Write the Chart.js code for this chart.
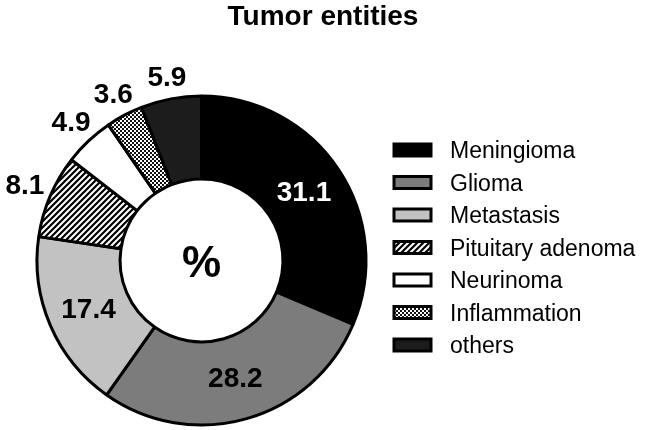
<!DOCTYPE html>
<html>
<head>
<meta charset="utf-8">
<script src="https://cdn.jsdelivr.net/npm/chart.js@4.4.0/dist/chart.umd.min.js"></script>
<style>
  html, body { margin: 0; padding: 0; background: #ffffff; }
  #wrap { width: 646px; height: 430px; position: relative; }
</style>
</head>
<body>
<div id="wrap"><canvas id="tumorChart"></canvas></div>
<script>
// Tumor entities, percent of cases
const categories = ['Meningioma', 'Glioma', 'Metastasis', 'Pituitary adenoma', 'Neurinoma', 'Inflammation', 'others'];
const percents = [31.1, 28.2, 17.4, 8.1, 4.9, 3.6, 5.9];
const valueLabels = ['31.1', '28.2', '17.4', '8.1', '4.9', '3.6', '5.9'];
const labelInside = [true, true, true, false, false, false, false];

const FONT = '"Liberation Sans", Arial, Helvetica, sans-serif';

// hatch pattern: black diagonal lines on white
function makeHatch() {
    const c = document.createElement('canvas');
    c.width = 6; c.height = 6;
    const g = c.getContext('2d');
    g.fillStyle = '#ffffff';
    g.fillRect(0, 0, 6, 6);
    g.strokeStyle = '#000000';
    g.lineWidth = 2.2;
    g.beginPath();
    g.moveTo(-1, 7); g.lineTo(7, -1);
    g.moveTo(-4, 4); g.lineTo(4, -4);
    g.moveTo(2, 10); g.lineTo(10, 2);
    g.stroke();
    return g.createPattern(c, 'repeat');
}

// small checkerboard
function makeChecker() {
    const c = document.createElement('canvas');
    c.width = 4; c.height = 4;
    const g = c.getContext('2d');
    g.fillStyle = '#111111';
    g.fillRect(0, 0, 4, 4);
    g.fillStyle = '#ffffff';
    g.fillRect(0, 0, 2, 2);
    g.fillRect(2, 2, 2, 2);
    return g.createPattern(c, 'repeat');
}

const fills = ['#000000', '#7c7c7c', '#c2c2c2', makeHatch(), '#ffffff', makeChecker(), '#1c1c1c'];

// title, value labels, centre sign and legend
const decorations = {
    id: 'decorations',
    afterDraw(chart) {
        const ctx = chart.ctx;
        const meta = chart.getDatasetMeta(0);
        ctx.save();

        ctx.fillStyle = '#000000';
        ctx.textAlign = 'center';
        ctx.textBaseline = 'alphabetic';
        ctx.font = 'bold 28px ' + FONT;
        ctx.fillText('Tumor entities', 323, 25);

        ctx.textBaseline = 'middle';
        meta.data.forEach((arc, i) => {
            const p = arc.getProps(['x', 'y', 'startAngle', 'endAngle', 'outerRadius'], true);
            const mid = (p.startAngle + p.endAngle) / 2;
            let x, y;
            if (labelInside[i]) {
                const pos = arc.tooltipPosition(true);
                x = pos.x; y = pos.y;
            } else {
                const r = p.outerRadius + 20 + 8 * Math.abs(Math.cos(mid));
                x = p.x + Math.cos(mid) * r;
                y = p.y + Math.sin(mid) * r;
            }
            ctx.font = 'bold 28px ' + FONT;
            ctx.fillStyle = i === 0 ? '#ffffff' : '#000000';
            ctx.fillText(valueLabels[i], x, y + 1);
        });

        const c = meta.data[0].getProps(['x', 'y'], true);
        ctx.fillStyle = '#000000';
        ctx.font = 'bold 44px ' + FONT;
        ctx.fillText('%', c.x, c.y + 4);

        // legend
        ctx.textAlign = 'left';
        ctx.textBaseline = 'alphabetic';
        ctx.font = '23px ' + FONT;
        categories.forEach((name, i) => {
            const base = 158 + i * 32.5;
            ctx.fillStyle = fills[i];
            ctx.fillRect(394, base - 14, 37, 12);
            ctx.strokeStyle = '#000000';
            ctx.lineWidth = 3;
            ctx.strokeRect(394, base - 14, 37, 12);
            ctx.fillStyle = '#000000';
            ctx.fillText(name, 450, base);
        });
        ctx.restore();
    }
};

new Chart(document.getElementById('tumorChart'), {
    type: 'doughnut',
    data: {
        labels: categories,
        datasets: [{
            data: percents,
            backgroundColor: fills,
            borderColor: '#000000',
            borderWidth: 3,
            hoverOffset: 0,
            offset: 0
        }]
    },
    options: {
        responsive: true,
        maintainAspectRatio: false,
        animation: false,
        events: [],
        cutout: '49.5%',
        layout: {
            padding: { left: 35.5, right: 278.5, top: 94.5, bottom: 3.5 }
        },
        plugins: {
            legend: { display: false },
            title: { display: false },
            tooltip: { enabled: false }
        }
    },
    plugins: [decorations]
});
</script>
</body>
</html>
